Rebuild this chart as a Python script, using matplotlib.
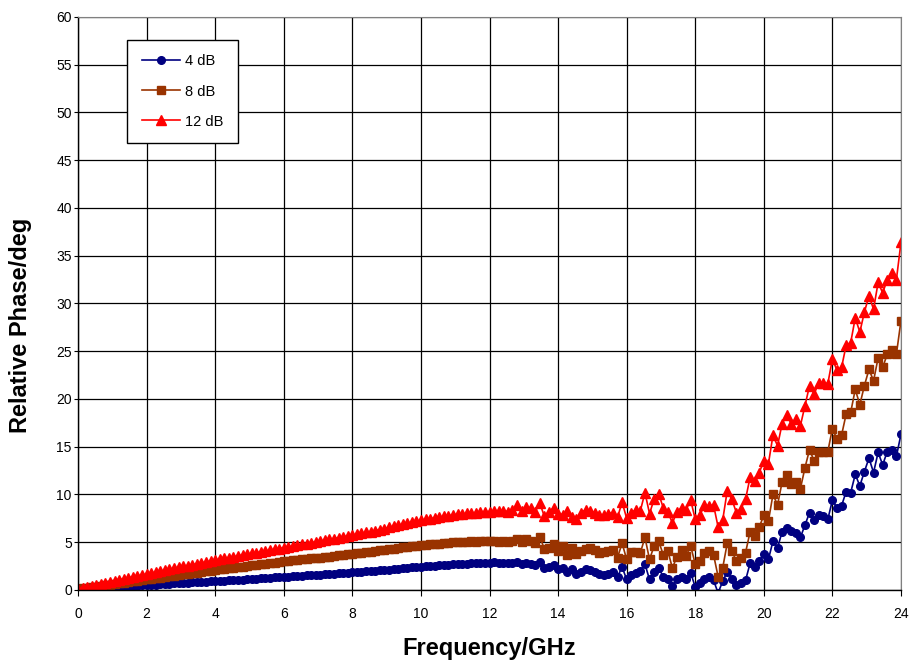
import numpy as np
import matplotlib.pyplot as plt

plt.rcParams['font.family'] = ['Liberation Sans', 'DejaVu Sans']

# frequency grid (GHz), 0.1333 GHz steps, last point lies just past the axis
freq = np.arange(182) * 24 / 180

phase_4db = [
    0.00, 0.04, 0.07, 0.10, 0.13, 0.17, 0.20, 0.23, 0.27, 0.30,
    0.33, 0.37, 0.40, 0.43, 0.47, 0.50, 0.53, 0.56, 0.59, 0.62,
    0.65, 0.68, 0.71, 0.74, 0.76, 0.79, 0.82, 0.84, 0.87, 0.90,
    0.92, 0.95, 0.98, 1.00, 1.03, 1.06, 1.09, 1.11, 1.14, 1.18,
    1.21, 1.24, 1.28, 1.31, 1.34, 1.38, 1.41, 1.44, 1.47, 1.50,
    1.52, 1.55, 1.58, 1.61, 1.64, 1.68, 1.71, 1.74, 1.78, 1.81,
    1.85, 1.88, 1.91, 1.95, 1.98, 2.01, 2.05, 2.08, 2.13, 2.18,
    2.22, 2.27, 2.31, 2.36, 2.40, 2.45, 2.48, 2.52, 2.55, 2.58,
    2.62, 2.65, 2.68, 2.70, 2.74, 2.76, 2.78, 2.80, 2.82, 2.84,
    2.85, 2.88, 2.80, 2.86, 2.78, 2.82, 2.90, 2.70, 2.85, 2.75,
    2.65, 2.95, 2.30, 2.40, 2.60, 2.20, 2.30, 1.90, 2.20, 1.70,
    1.90, 2.20, 2.10, 1.90, 1.70, 1.60, 1.70, 1.90, 1.40, 2.40,
    1.10, 1.60, 1.80, 2.00, 2.70, 1.10, 1.90, 2.30, 1.40, 1.20,
    0.40, 1.10, 1.40, 1.10, 1.80, 0.30, 0.70, 1.20, 1.40, 1.00,
    -0.30, 0.90, 1.90, 1.20, 0.50, 0.70, 1.00, 2.80, 2.40, 3.00,
    3.80, 3.20, 5.10, 4.40, 6.10, 6.50, 6.20, 6.00, 5.50, 6.80,
    8.10, 7.30, 7.90, 7.70, 7.40, 9.40, 8.60, 8.80, 10.30, 10.20,
    12.10, 10.90, 12.40, 13.80, 12.30, 14.40, 13.10, 14.50, 14.70, 14.00,
    16.30, 15.00,
]

phase_8db = [
    0.10, 0.16, 0.22, 0.30, 0.36, 0.43, 0.50, 0.56, 0.63, 0.70,
    0.76, 0.83, 0.90, 0.96, 1.03, 1.10, 1.16, 1.23, 1.30, 1.36,
    1.43, 1.50, 1.56, 1.63, 1.70, 1.76, 1.83, 1.90, 1.96, 2.03,
    2.10, 2.15, 2.22, 2.27, 2.34, 2.39, 2.45, 2.51, 2.57, 2.63,
    2.68, 2.75, 2.80, 2.87, 2.92, 3.00, 3.04, 3.09, 3.15, 3.20,
    3.25, 3.30, 3.36, 3.40, 3.46, 3.50, 3.57, 3.62, 3.66, 3.72,
    3.78, 3.84, 3.90, 3.96, 4.02, 4.08, 4.15, 4.20, 4.27, 4.33,
    4.40, 4.45, 4.52, 4.58, 4.64, 4.70, 4.74, 4.78, 4.83, 4.86,
    4.90, 4.94, 4.98, 5.00, 5.05, 5.02, 5.10, 5.05, 5.12, 5.08,
    5.10, 5.15, 5.05, 5.12, 5.00, 5.10, 5.30, 5.00, 5.35, 5.10,
    4.90, 5.55, 4.30, 4.40, 4.80, 4.10, 4.60, 3.70, 4.40, 3.80,
    4.10, 4.30, 4.40, 4.20, 3.90, 4.00, 4.10, 4.20, 3.40, 4.90,
    3.20, 4.00, 4.00, 3.90, 5.50, 3.20, 4.60, 5.10, 3.70, 4.10,
    2.30, 3.50, 4.20, 3.60, 4.60, 2.70, 3.00, 3.90, 4.10, 3.70,
    1.40, 2.30, 4.90, 4.10, 3.00, 3.30, 3.90, 6.10, 5.70, 6.60,
    7.80, 7.20, 10.00, 8.90, 11.30, 12.00, 11.10, 11.30, 10.60, 12.80,
    14.70, 13.50, 14.50, 14.50, 14.50, 16.90, 15.80, 16.20, 18.40, 18.60,
    21.00, 19.40, 21.40, 23.10, 21.90, 24.30, 23.30, 24.70, 25.10, 24.70,
    28.20, 26.50,
]

phase_12db = [
    0.10, 0.22, 0.33, 0.42, 0.53, 0.64, 0.74, 0.84, 0.95, 1.05,
    1.15, 1.26, 1.36, 1.47, 1.57, 1.68, 1.78, 1.87, 1.97, 2.07,
    2.17, 2.27, 2.37, 2.47, 2.56, 2.65, 2.75, 2.84, 2.93, 3.03,
    3.12, 3.21, 3.30, 3.38, 3.47, 3.56, 3.64, 3.73, 3.82, 3.90,
    3.99, 4.08, 4.16, 4.25, 4.34, 4.43, 4.52, 4.60, 4.69, 4.77,
    4.86, 4.95, 5.03, 5.12, 5.20, 5.29, 5.38, 5.47, 5.55, 5.64,
    5.73, 5.83, 5.92, 6.02, 6.12, 6.22, 6.33, 6.42, 6.55, 6.65,
    6.76, 6.86, 6.97, 7.07, 7.18, 7.28, 7.38, 7.45, 7.55, 7.60,
    7.70, 7.75, 7.85, 7.92, 7.95, 8.02, 8.05, 8.10, 8.15, 8.18,
    8.20, 8.30, 8.25, 8.30, 8.20, 8.40, 8.90, 8.30, 8.70, 8.60,
    8.20, 9.10, 7.70, 8.20, 8.60, 8.00, 7.90, 8.30, 7.60, 7.40,
    8.10, 8.40, 8.30, 8.10, 7.90, 7.80, 8.00, 8.10, 7.60, 9.20,
    7.50, 8.10, 8.40, 8.30, 10.20, 8.00, 9.50, 10.10, 8.60, 8.20,
    7.00, 8.20, 8.60, 8.40, 9.40, 7.40, 7.80, 8.90, 8.80, 8.90,
    6.60, 7.30, 10.40, 9.50, 8.10, 8.50, 9.50, 11.80, 11.40, 12.30,
    13.50, 13.20, 16.20, 15.10, 17.40, 18.30, 17.40, 17.90, 17.20, 19.30,
    21.40, 20.50, 21.70, 21.70, 21.60, 24.20, 23.00, 23.30, 25.60, 25.90,
    28.50, 27.00, 29.10, 30.80, 29.40, 32.20, 31.10, 32.50, 33.20, 32.50,
    36.40, 34.50,
]

fig = plt.figure(figsize=(9.16, 6.68), dpi=100)
ax = fig.add_axes([0.0852, 0.1168, 0.8984, 0.8578])

ax.plot(freq, phase_4db, color='#000080', marker='o', markersize=5.5,
        linewidth=1.2, label='4 dB')
ax.plot(freq, phase_8db, color='#993300', marker='s', markersize=5.5,
        linewidth=1.2, label='8 dB')
ax.plot(freq, phase_12db, color='#FF0000', marker='^', markersize=6.5,
        linewidth=1.2, label='12 dB')

ax.set_xlim(0, 24)
ax.set_ylim(0, 60)
ax.set_xticks(np.arange(0, 25, 2))
ax.set_yticks(np.arange(0, 61, 5))
ax.grid(True, color='black', linewidth=0.9)
ax.set_axisbelow(True)
ax.tick_params(axis='x', labelsize=10, direction='out', length=4, pad=8,
               color='black')
ax.tick_params(axis='y', labelsize=10, direction='out', length=3, pad=1.5,
               color='black')
for side in ['top', 'right']:
    ax.spines[side].set_color('#808080')
for side in ['left', 'bottom']:
    ax.spines[side].set_color('black')
    ax.spines[side].set_linewidth(1.0)

ax.set_xlabel('Frequency/GHz', fontsize=17, fontweight='bold', labelpad=12)
ax.set_ylabel('Relative Phase/deg', fontsize=17, fontweight='bold')
# label sits a bit below the middle of the axis, like the original
ax.yaxis.set_label_coords(-0.0559, 0.4625)

leg = ax.legend(loc='upper left', bbox_to_anchor=(0.0595, 0.96), fontsize=10.5,
                fancybox=False, framealpha=1, edgecolor='black',
                labelspacing=1.1, borderpad=1.0, handlelength=2.6,
                handletextpad=0.4, borderaxespad=0)
leg.get_frame().set_linewidth(1.0)

plt.savefig('out.png', dpi=100, facecolor='white')
